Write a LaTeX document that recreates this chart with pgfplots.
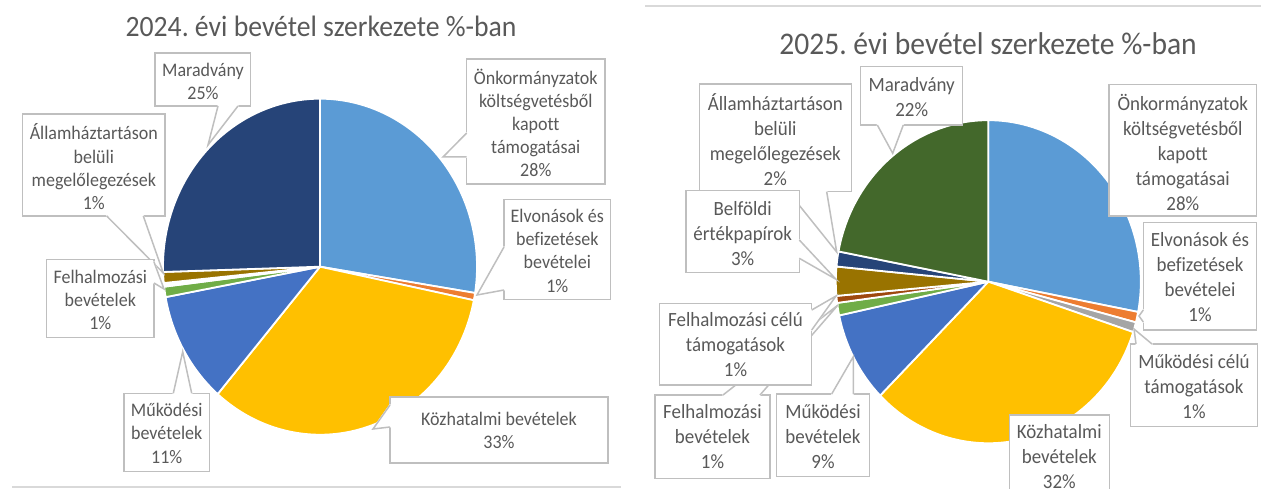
\documentclass[border=0pt]{standalone}
\usepackage{pgfplots}
\pgfplotsset{compat=1.18}
\usepackage{pgfplotstable}
\usepackage{fontspec}
\setmainfont[Ligatures=NoCommon]{Carlito}
\newfontfamily\tallfont[FakeStretch=0.939,Ligatures=NoCommon]{Carlito}
\frenchspacing

\definecolor{cOnk}{HTML}{5B9BD5}
\definecolor{cElv}{HTML}{ED7D31}
\definecolor{cMct}{HTML}{A5A5A5}
\definecolor{cKoz}{HTML}{FFC000}
\definecolor{cMuk}{HTML}{4472C4}
\definecolor{cFel}{HTML}{70AD47}
\definecolor{cFct}{HTML}{9E480E}
\definecolor{cBel}{HTML}{997300}
\definecolor{cAll}{HTML}{264478}
\definecolor{cMar}{HTML}{43682B}
\definecolor{txt}{HTML}{595959}
\definecolor{brd}{HTML}{BFBFBF}
\definecolor{rule}{HTML}{D9D9D9}

% 2024 shares (%), clockwise from 12 o'clock
\pgfplotstableread{
share colour
27.5  cOnk
0.7   cElv
33.1  cKoz
10.8  cMuk
1.0   cFel
0.35  white
1.05  cBel
25.5  cAll
}\pieA

% 2025 shares (%), clockwise from 12 o'clock
\pgfplotstableread{
share colour
28.0  cOnk
1.05  cElv
1.0   cMct
32.5  cKoz
9.1   cMuk
1.25  cFel
0.7   cFct
2.9   cBel
1.5   cAll
22.0  cMar
}\pieB

\newcommand{\drawpie}[6]{%
  \def\slCum{0}%
  \pgfplotsforeachungrouped \slI in {0,...,#2}{%
    \pgfplotstablegetelem{\slI}{share}\of#1\let\slV\pgfplotsretval
    \pgfplotstablegetelem{\slI}{colour}\of#1\let\slCol\pgfplotsretval
    \pgfmathsetmacro\slA{90-3.6*\slCum}%
    \pgfmathsetmacro\slNew{\slCum+\slV}%
    \pgfmathsetmacro\slB{90-3.6*\slNew}%
    \edef\doslice{\noexpand\filldraw[fill=\slCol,draw=white,line width=1.8pt,line join=round] (axis cs:#3,#4) -- ++(\slA:#5pt and #6pt) arc[start angle=\slA,end angle=\slB,x radius=#5pt,y radius=#6pt] -- cycle;}%
    \doslice
    \global\let\slCum\slNew
  }%
}
\newcommand{\cbox}[2]{\filldraw[fill=white,draw=brd,line width=1.5pt] (axis cs:#1) rectangle (axis cs:#2);}
\newcommand{\ctail}[3]{%
  \filldraw[white,line width=1.6pt,line join=round] (axis cs:#1) -- (axis cs:#3) -- (axis cs:#2) -- cycle;
  \draw[brd,line width=1.5pt,line join=miter] (axis cs:#1) -- (axis cs:#3) -- (axis cs:#2);}
\newcommand{\lf}{\tallfont\fontsize{19.17}{23.2}\selectfont}
\newcommand{\rf}{\tallfont\fontsize{20.2}{25}\selectfont}

\begin{document}
\begin{tikzpicture}
\begin{axis}[
  at={(0,0)}, anchor=south west,
  scale only axis, width=1261pt, height=489pt,
  xmin=0, xmax=1261, ymin=0, ymax=489, y dir=reverse,
  hide axis, clip=true,
]
% frame rules
\draw[rule,line width=2pt] (axis cs:645,6) -- (axis cs:1261,6);
\draw[rule,line width=2.5pt] (axis cs:12,487) -- (axis cs:621,487);

% titles
\node[font=\tallfont\fontsize{29.5}{35}\selectfont,text=txt,anchor=base] at (axis cs:321,37) {2024. évi bevétel szerkezete \%-ban};
\node[font=\tallfont\fontsize{31.5}{37}\selectfont,text=txt,anchor=base] at (axis cs:988,55) {2025. évi bevétel szerkezete \%-ban};

% pies
\drawpie{\pieA}{7}{320}{266.7}{157}{168}
\drawpie{\pieB}{9}{988.3}{281.7}{152.5}{161.5}

% ---- 2024 callouts
\cbox{155,53}{250.7,106}\ctail{218,106}{238,106}{208,145}
\node[font=\lf,text=txt,align=center] at (axis cs:203,81.5) {Maradvány\\25\%};
\cbox{22.7,114}{165,216}\ctail{106.7,216}{143.3,216}{163.3,273}
\node[font=\lf,text=txt,align=center] at (axis cs:93.8,166.7) {Államháztartáson\\belüli\\megelőlegezések\\1\%};
\cbox{46.7,259.3}{154,337.3}\ctail{154,262}{154,283}{164,289}
\node[font=\lf,text=txt,align=center] at (axis cs:100.3,300) {Felhalmozási\\bevételek\\1\%};
\cbox{124,393.3}{209.3,471.7}\ctail{173.3,393.3}{191.7,393.3}{182.7,351.7}
\node[font=\lf,text=txt,align=center] at (axis cs:166.7,433.3) {Működési\\bevételek\\11\%};
\cbox{466.7,59}{605,184}\ctail{466.7,133}{466.7,157}{443,157}
\node[font=\lf,text=txt,align=center] at (axis cs:535.8,122.9) {Önkormányzatok\\költségvetésből\\kapott\\támogatásai\\28\%};
\cbox{504,199.3}{610.7,299.3}\ctail{504,247}{504,290}{477,295}
\node[font=\lf,text=txt,align=center] at (axis cs:557.3,250.8) {Elvonások és\\befizetések\\bevételei\\1\%};
\cbox{390,397}{608,463}\ctail{390,405}{390,427}{373,429}
\node[font=\lf,text=txt,align=center] at (axis cs:499,430.5) {Közhatalmi bevételek\\33\%};

% ---- 2025 callouts
\cbox{860.7,66.7}{962.7,125}\ctail{877.3,125}{903.3,125}{892.7,153.3}
\node[font=\rf,text=txt,align=center] at (axis cs:911.7,97.5) {Maradvány\\22\%};
\cbox{699.3,84}{851.7,191.7}\ctail{788.3,191.7}{826.7,191.7}{836.7,252}
\node[font=\rf,text=txt,align=center] at (axis cs:775.3,139.2) {Államháztartáson\\belüli\\megelőlegezések\\2\%};
\cbox{686,190.7}{799.3,272.7}\ctail{799.3,240}{799.3,258.3}{836,279.3}
\node[font=\rf,text=txt,align=center] at (axis cs:742.7,233.3) {Belföldi\\értékpapírok\\3\%};
\cbox{655,395}{770,478.3}\ctail{723,395}{760,395}{838,305}
\node[font=\rf,text=txt,align=center] at (axis cs:712.5,436.7) {Felhalmozási\\bevételek\\1\%};
\cbox{659.3,303.3}{811.7,385}\ctail{811.7,310}{811.7,330}{836,296}
\node[font=\rf,text=txt,align=center] at (axis cs:735.5,345) {Felhalmozási célú\\támogatások\\1\%};
\cbox{776.7,394}{869.3,476.7}\ctail{831.7,394}{853.3,394}{853.3,356.7}
\node[font=\rf,text=txt,align=center] at (axis cs:823,436.7) {Működési\\bevételek\\9\%};
\cbox{1109,84.3}{1256.7,216}
\node[font=\rf,text=txt,align=center] at (axis cs:1182.8,152.2) {Önkormányzatok\\költségvetésből\\kapott\\támogatásai\\28\%};
\cbox{1143.3,222.7}{1256.7,330}\ctail{1143.3,310}{1143.3,322}{1139,316}
\node[font=\rf,text=txt,align=center] at (axis cs:1200,277.5) {Elvonások és\\befizetések\\bevételei\\1\%};
\cbox{1130.7,344}{1257.3,426.7}\ctail{1136,344}{1152,344}{1134,329}
\node[font=\rf,text=txt,align=center] at (axis cs:1194,386.7) {Működési célú\\támogatások\\1\%};
\cbox{1009.3,415}{1109.3,500}
\node[font=\rf,text=txt,align=center] at (axis cs:1059.3,456.7) {Közhatalmi\\bevételek\\32\%};
\end{axis}
\pgfresetboundingbox
\path[use as bounding box] (0,0) rectangle (1261pt,489pt);
\end{tikzpicture}
\end{document}
